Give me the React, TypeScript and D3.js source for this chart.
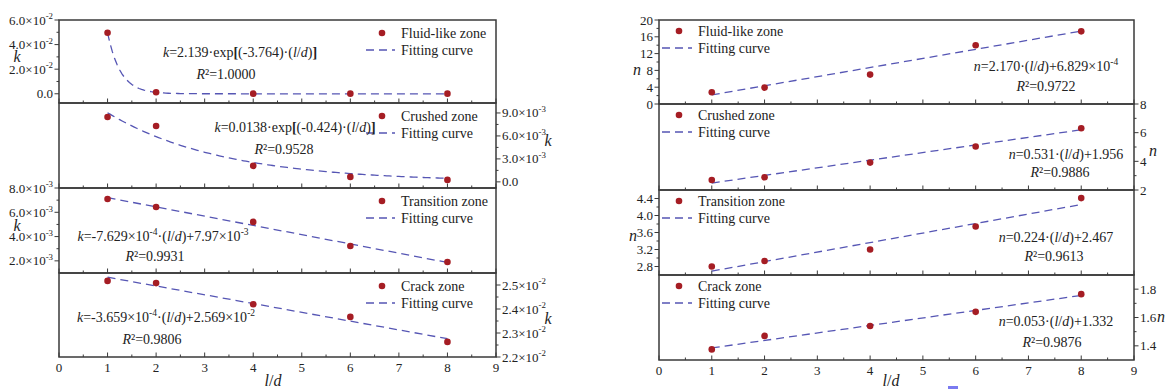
import React from "react";
import * as d3 from "d3";

// ---------- data ----------
const xValues = [1, 2, 4, 6, 8];
const xTicks = [0, 1, 2, 3, 4, 5, 6, 7, 8, 9];
const xMinorTicks = [0.5, 1.5, 2.5, 3.5, 4.5, 5.5, 6.5, 7.5, 8.5];

const kFluid = [0.0496, 0.0012, 0.0001, 0.0001, 0.0001];
const kCrushed = [0.00848, 0.0073, 0.00209, 0.00065, 0.00026];
const kTransition = [0.0071, 0.00644, 0.00521, 0.00322, 0.0019];
const kCrack = [0.02517, 0.02508, 0.0242, 0.02367, 0.02263];

const nFluid = [2.8, 3.9, 7.0, 14.0, 17.3];
const nCrushed = [2.7, 2.89, 3.91, 5.03, 6.31];
const nTransition = [2.8, 2.93, 3.2, 3.74, 4.41];
const nCrack = [1.375, 1.47, 1.54, 1.64, 1.765];

const zoneNames = ["Fluid-like zone", "Crushed zone", "Transition zone", "Crack zone"];

// fitted coefficients shown on the chart
const kFits = [
  { type: "exp", a: 2.139, b: -3.764 },
  { type: "exp", a: 0.0138, b: -0.424 },
  { type: "lin", a: -7.629e-4, b: 7.97e-3 },
  { type: "lin", a: -3.659e-4, b: 2.569e-2 },
];
const nFits = [
  { type: "lin", a: 2.17, b: 6.829e-4 },
  { type: "lin", a: 0.531, b: 1.956 },
  { type: "lin", a: 0.224, b: 2.467 },
  { type: "lin", a: 0.053, b: 1.332 },
];

type Seg = { t: string; i?: boolean; sup?: boolean; b?: boolean };
const ld: Seg[] = [{ t: "(" }, { t: "l", i: true }, { t: "/" }, { t: "d", i: true }, { t: ")" }];

const kEquations: Seg[][] = [
  [{ t: "k", i: true }, { t: "=2.139·exp" }, { t: "[", b: true }, { t: "(-3.764)·" }, ...ld, { t: "]", b: true }],
  [{ t: "k", i: true }, { t: "=0.0138·exp" }, { t: "[", b: true }, { t: "(-0.424)·" }, ...ld, { t: "]", b: true }],
  [{ t: "k", i: true }, { t: "=-7.629×10" }, { t: "-4", sup: true }, { t: "·" }, ...ld, { t: "+7.97×10" }, { t: "-3", sup: true }],
  [{ t: "k", i: true }, { t: "=-3.659×10" }, { t: "-4", sup: true }, { t: "·" }, ...ld, { t: "+2.569×10" }, { t: "-2", sup: true }],
];
const nEquations: Seg[][] = [
  [{ t: "n", i: true }, { t: "=2.170·" }, ...ld, { t: "+6.829×10" }, { t: "-4", sup: true }],
  [{ t: "n", i: true }, { t: "=0.531·" }, ...ld, { t: "+1.956" }],
  [{ t: "n", i: true }, { t: "=0.224·" }, ...ld, { t: "+2.467" }],
  [{ t: "n", i: true }, { t: "=0.053·" }, ...ld, { t: "+1.332" }],
];
const kR2 = ["1.0000", "0.9528", "0.9931", "0.9806"];
const nR2 = ["0.9722", "0.9886", "0.9613", "0.9876"];

const kDomains = [[-0.0075, 0.06], [-0.0008, 0.0103], [0.001, 0.008], [0.022, 0.0255]];
const kTicks = [[0, 0.02, 0.04, 0.06], [0, 0.003, 0.006, 0.009], [0.002, 0.004, 0.006, 0.008], [0.022, 0.023, 0.024, 0.025]];
const kMinor = [[0.01, 0.03, 0.05], [0.0015, 0.0045, 0.0075], [0.003, 0.005, 0.007], [0.0225, 0.0235, 0.0245]];
const kExp = [-2, -3, -3, -2];

const nDomains = [[0, 20], [2, 8], [2.6, 4.6], [1.3, 1.9]];
const nTicks = [[0, 4, 8, 12, 16, 20], [2, 4, 6, 8], [2.8, 3.2, 3.6, 4.0, 4.4], [1.4, 1.6, 1.8]];
const nMinor = [[2, 6, 10, 14, 18], [3, 5, 7], [3.0, 3.4, 3.8, 4.2], [1.5, 1.7]];
const nDecimals = [0, 0, 1, 1];

// ---------- styles ----------
const FONT = "Liberation Serif, DejaVu Serif, serif";
const AXIS = "#3a3a3a";
const DOT = "#a51d24";
const LINE = "#5656b4";
const sides = ["left", "right", "left", "right"];

function Rich({ segs, x, y, fs, anchor = "middle" }: { segs: Seg[]; x: number; y: number; fs: number; anchor?: string }) {
  let shift = 0;
  const out = segs.map((s, i) => {
    const target = s.sup ? -fs * 0.4 : 0;
    const dy = target - shift;
    shift = target;
    return (
      <tspan
        key={i}
        dy={dy !== 0 ? dy : undefined}
        fontStyle={s.i ? "italic" : undefined}
        fontWeight={s.b ? "bold" : undefined}
        fontSize={s.sup ? fs * 0.68 : undefined}
      >
        {s.t}
      </tspan>
    );
  });
  return (
    <text x={x} y={y} fontSize={fs} textAnchor={anchor} fill="#222" style={{ fontFamily: FONT }}>
      {out}
    </text>
  );
}

function fitPath(fit: any, x: any, y: any) {
  const pts = fit.type === "exp" ? d3.range(1, 8.0001, 0.05) : [1, 8];
  const f = (v: number) => (fit.type === "exp" ? fit.a * Math.exp(fit.b * v) : fit.a * v + fit.b);
  return d3.line<number>().x((v) => x(v)).y((v) => y(f(v)))(pts) || "";
}

function Panel({ x0, x1, bounds, values, fits, domains, ticks, minor, labelFn, eqs, r2s, eqPos, axisLabel, axisLabelPos, legendX, legendOff, xTitleX }: any) {
  const x = d3.scaleLinear().domain([0, 9]).range([x0, x1]);
  const els: any[] = [];
  for (let s = 0; s < 4; s++) {
    const top = bounds[s];
    const bot = bounds[s + 1];
    const y = d3.scaleLinear().domain(domains[s]).range([bot, top]);
    const side = sides[s];
    const ax = side === "left" ? x0 : x1;
    const dir = side === "left" ? -1 : 1;
    const g: any[] = [];
    xTicks.forEach((t) => g.push(<line key={"xt" + t} x1={x(t)} x2={x(t)} y1={bot} y2={bot - 4.5} stroke={AXIS} strokeWidth={1} />));
    xMinorTicks.forEach((t) => g.push(<line key={"xm" + t} x1={x(t)} x2={x(t)} y1={bot} y2={bot - 2.5} stroke={AXIS} strokeWidth={1} />));
    ticks[s].forEach((t: number, i: number) => {
      const yy = y(t);
      g.push(<line key={"yt" + i} x1={ax} x2={ax + dir * 4.5} y1={yy} y2={yy} stroke={AXIS} strokeWidth={1} />);
      g.push(
        <Rich key={"yl" + i} segs={labelFn(s, t)} x={ax + dir * 6} y={yy + 4.5} fs={13} anchor={side === "left" ? "end" : "start"} />
      );
    });
    minor[s].forEach((t: number, i: number) => {
      const yy = y(t);
      g.push(<line key={"ym" + i} x1={ax} x2={ax + dir * 2.5} y1={yy} y2={yy} stroke={AXIS} strokeWidth={1} />);
    });
    g.push(<path key="fit" d={fitPath(fits[s], x, y)} fill="none" stroke={LINE} strokeWidth={1.3} strokeDasharray="8,5" />);
    xValues.forEach((v, i) => g.push(<circle key={"p" + i} cx={x(v)} cy={y(values[s][i])} r={3.3} fill={DOT} />));
    const lx = legendX;
    g.push(<circle key="ld" cx={lx.dot} cy={top + legendOff[0]} r={3.3} fill={DOT} />);
    g.push(
      <text key="lt1" x={lx.text} y={top + legendOff[0] + 5} fontSize={14} style={{ fontFamily: FONT }} fill="#222">
        {zoneNames[s]}
      </text>
    );
    g.push(<line key="ll" x1={lx.l0} x2={lx.l1} y1={top + legendOff[1]} y2={top + legendOff[1]} stroke={LINE} strokeWidth={1.3} strokeDasharray="8,5" />);
    g.push(
      <text key="lt2" x={lx.text} y={top + legendOff[1] + 5} fontSize={14} style={{ fontFamily: FONT }} fill="#222">
        Fitting curve
      </text>
    );
    const ep = eqPos[s];
    g.push(<Rich key="eq" segs={eqs[s]} x={ep[0]} y={ep[1]} fs={14} />);
    g.push(<Rich key="r2" segs={[{ t: "R", i: true }, { t: "²=" + r2s[s] }]} x={ep[2]} y={ep[3]} fs={14} />);
    const ap = axisLabelPos[s];
    g.push(
      <text key="al" x={ap[0]} y={ap[1]} fontSize={16} fontStyle="italic" style={{ fontFamily: FONT }} textAnchor="middle" fill="#222">
        {axisLabel}
      </text>
    );
    g.push(<rect key="fr" x={x0} y={top} width={x1 - x0} height={bot - top} fill="none" stroke={AXIS} strokeWidth={1.5} />);
    els.push(<g key={"s" + s}>{g}</g>);
  }
  const bot = bounds[4];
  xTicks.forEach((t) =>
    els.push(
      <text key={"xl" + t} x={x(t)} y={bot + 15} fontSize={13} textAnchor="middle" style={{ fontFamily: FONT }} fill="#222">
        {t}
      </text>
    )
  );
  els.push(<Rich key="xtitle" segs={[{ t: "l", i: true }, { t: "/" }, { t: "d", i: true }]} x={xTitleX} y={386} fs={16} />);
  return <g>{els}</g>;
}

const kLabel = (s: number, t: number): Seg[] => {
  if (t === 0) return [{ t: "0.0" }];
  const e = kExp[s];
  const m = t / Math.pow(10, e);
  return [{ t: m.toFixed(1) + "×10" }, { t: String(e), sup: true }];
};
const nLabel = (s: number, t: number): Seg[] => [{ t: t.toFixed(nDecimals[s]) }];

export default function App() {
  return (
    <svg width={1166} height={390} style={{ position: "absolute", left: 0, top: 0, background: "#fff", fontFamily: FONT }}>
      <rect x={0} y={0} width={1166} height={390} fill="#fff" />
      <Panel
        x0={59}
        x1={496}
        bounds={[20, 103, 188, 273, 357]}
        values={[kFluid, kCrushed, kTransition, kCrack]}
        fits={kFits}
        domains={kDomains}
        ticks={kTicks}
        minor={kMinor}
        labelFn={kLabel}
        eqs={kEquations}
        r2s={kR2}
        eqPos={[
          [240, 57, 226, 79],
          [295, 132, 284, 154],
          [163, 241, 155, 261],
          [166, 322, 152, 344],
        ]}
        axisLabel="k"
        axisLabelPos={[
          [17, 62],
          [548, 146],
          [17, 231],
          [548, 324],
        ]}
        legendX={{ dot: 382, text: 401, l0: 366, l1: 395 }}
        legendOff={[13, 30]}
        xTitleX={273}
      />
      <Panel
        x0={659}
        x1={1134}
        bounds={[20, 104, 190, 275, 360]}
        values={[nFluid, nCrushed, nTransition, nCrack]}
        fits={nFits}
        domains={nDomains}
        ticks={nTicks}
        minor={nMinor}
        labelFn={nLabel}
        eqs={nEquations}
        r2s={nR2}
        eqPos={[
          [1046, 71, 1046, 91],
          [1066, 159, 1060, 177],
          [1056, 242, 1054, 261],
          [1056, 326, 1052, 347],
        ]}
        axisLabel="n"
        axisLabelPos={[
          [637, 75],
          [1153, 156],
          [633, 241],
          [1161, 322],
        ]}
        legendX={{ dot: 679, text: 698, l0: 662, l1: 692 }}
        legendOff={[11, 28]}
        xTitleX={891}
      />
      <rect x={948} y={386} width={10} height={3} fill="#7a7af0" />
    </svg>
  );
}
